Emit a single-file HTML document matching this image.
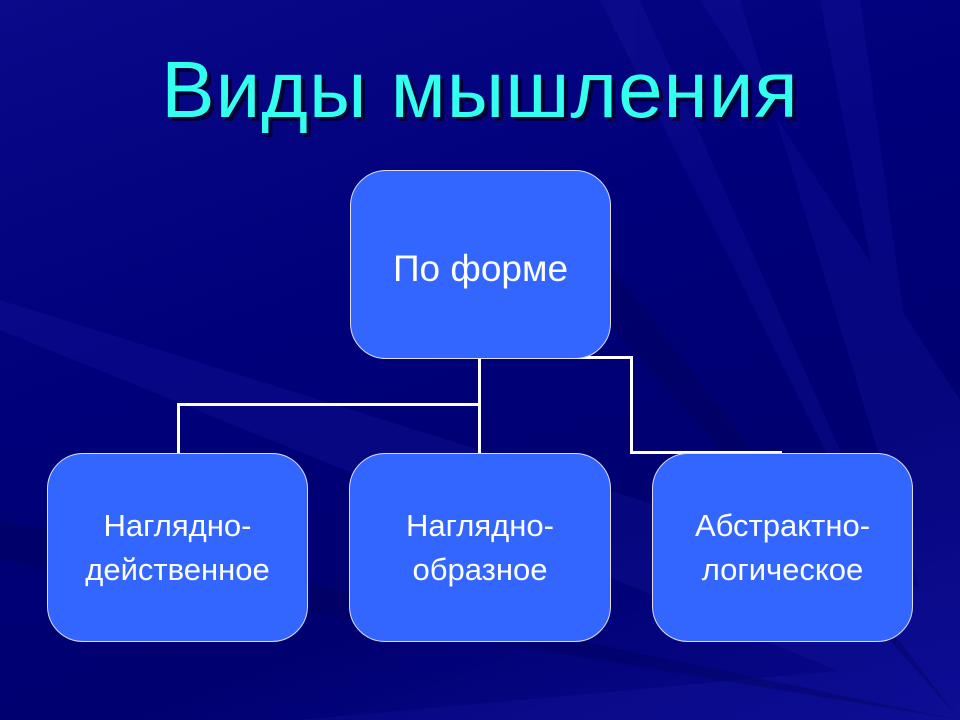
<!DOCTYPE html>
<html><head><meta charset="utf-8"><style>
html,body{margin:0;padding:0}
body{width:960px;height:720px;overflow:hidden;position:relative;font-family:"Liberation Sans",sans-serif;
background:linear-gradient(160deg,#0a0a8a 0%,#00007a 40%,#000070 70%,#0a0a90 100%);}
h1{position:absolute;left:0;width:960px;top:44px;margin:0;text-align:center;font-weight:normal;font-size:80px;color:#33ffee;text-shadow:4px 4px 0 #00003a;letter-spacing:1px}
.box{position:absolute;background:#3366ff;border:1px solid #dde;border-radius:36px;color:#fff;display:flex;align-items:center;justify-content:center;text-align:center;box-sizing:border-box}
.l{position:absolute;background:#fff}
</style></head><body>
<svg width="960" height="720" style="position:absolute;left:0;top:0">
<g fill="#1a1aa8" opacity="0.25">
<polygon points="960,720 960,600 0,300 0,330"/>
<polygon points="960,720 960,660 300,720"/>
<polygon points="960,720 820,0 860,0"/>
<polygon points="960,720 600,0 640,0"/>
<polygon points="960,720 960,400 700,0 740,0"/>
</g>
<g fill="#000050" opacity="0.3">
<polygon points="960,720 500,200 560,200"/>
<polygon points="960,720 0,520 0,560"/>
</g>
</svg>
<h1>Виды мышления</h1>
<div class="l" style="left:478px;top:357px;width:3px;height:97px"></div>
<div class="l" style="left:177px;top:403px;width:304px;height:3px"></div>
<div class="l" style="left:177px;top:403px;width:3px;height:51px"></div>
<div class="l" style="left:560px;top:356px;width:73px;height:3px"></div>
<div class="l" style="left:630px;top:356px;width:3px;height:97px"></div>
<div class="l" style="left:630px;top:451px;width:152px;height:3px"></div>
<div class="box" style="left:350px;top:170px;width:261px;height:189px;font-size:37px;padding-top:8px">По форме</div>
<div class="box" style="left:47px;top:453px;width:261px;height:189px;font-size:31px;line-height:1.4">Наглядно-<br>действенное</div>
<div class="box" style="left:349px;top:453px;width:262px;height:189px;font-size:31px;line-height:1.4">Наглядно-<br>образное</div>
<div class="box" style="left:652px;top:453px;width:261px;height:189px;font-size:31px;line-height:1.4">Абстрактно-<br>логическое</div>
</body></html>
